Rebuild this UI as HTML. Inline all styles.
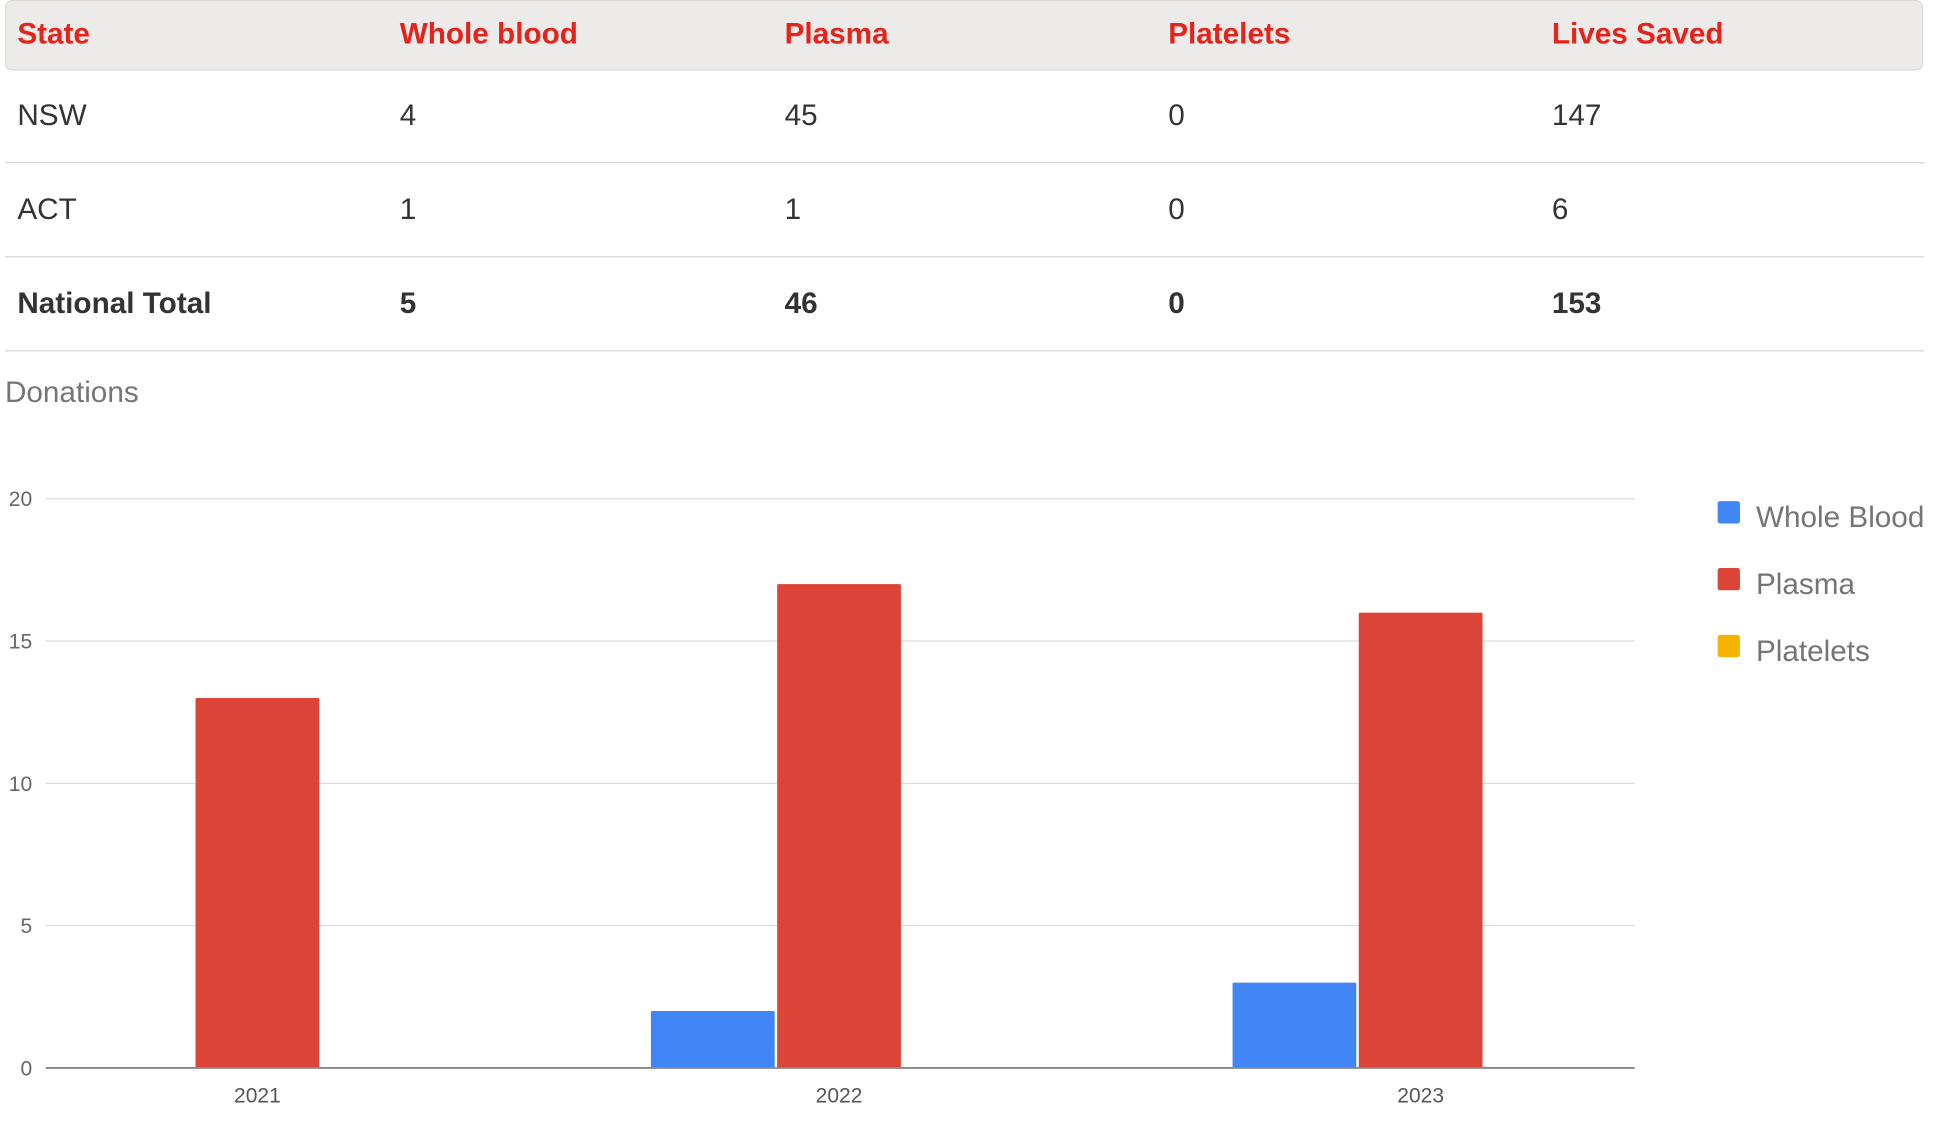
<!DOCTYPE html>
<html><head><meta charset="utf-8"><style>
html,body{margin:0;padding:0;background:#fff;width:1940px;height:1124px;overflow:hidden}
#wrap{position:absolute;left:0;top:0;width:1560px;height:904px;transform:scale(1.2375);transform-origin:0 0;font-family:"Liberation Sans",sans-serif}
.hdr{position:absolute;left:4px;top:0;width:1548px;height:55px;background:#edebe9;border:1px solid #dcdad8;border-radius:6px}
.c{position:absolute;font-size:24px;line-height:28px}
.h{color:#e5231b;font-weight:bold;top:14px}
.r{color:#333}
.b{font-weight:bold;color:#333}
.ln{position:absolute;left:4px;width:1551px;height:1px;background:#d6d6d6}
</style></head><body>
<div id="wrap">
<div class="hdr"></div>
<div class="c h" style="left:14px">State</div>
<div class="c h" style="left:323px">Whole blood</div>
<div class="c h" style="left:634px">Plasma</div>
<div class="c h" style="left:944px">Platelets</div>
<div class="c h" style="left:1254px">Lives Saved</div>

<div class="c r" style="left:14px;top:80px">NSW</div>
<div class="c r" style="left:323px;top:80px">4</div>
<div class="c r" style="left:634px;top:80px">45</div>
<div class="c r" style="left:944px;top:80px">0</div>
<div class="c r" style="left:1254px;top:80px">147</div>
<div class="ln" style="top:131px"></div>

<div class="c r" style="left:14px;top:156px">ACT</div>
<div class="c r" style="left:323px;top:156px">1</div>
<div class="c r" style="left:634px;top:156px">1</div>
<div class="c r" style="left:944px;top:156px">0</div>
<div class="c r" style="left:1254px;top:156px">6</div>
<div class="ln" style="top:207px"></div>

<div class="c b" style="left:14px;top:232px">National Total</div>
<div class="c b" style="left:323px;top:232px">5</div>
<div class="c b" style="left:634px;top:232px">46</div>
<div class="c b" style="left:944px;top:232px">0</div>
<div class="c b" style="left:1254px;top:232px">153</div>
<div class="ln" style="top:283px"></div>

<div class="c" style="left:4px;top:304px;color:#757575">Donations</div>

<svg id="chart" width="1560" height="904" style="position:absolute;left:0;top:0"></svg>
</div>
<script>
const categories=["2021","2022","2023"];
const wholeBlood=[0,2,3];
const plasma=[13,17,16];
const platelets=[0,0,0];
const yTicks=[0,5,10,15,20];
const seriesNames=["Whole Blood","Plasma","Platelets"];
const seriesColors=["#4285f4","#db4437","#f4b400"];

const NS="http://www.w3.org/2000/svg";
const svg=document.getElementById('chart');
const plotL=37,plotR=1321,y0=863,yTop=403,yMax=20;
const y=v=>y0-(v/yMax)*(y0-yTop);
const step=470,xStart=-27;
const cx=i=>xStart+(i+0.5)*step;
const bw=100,gap=2;
function mk(t,a){const e=document.createElementNS(NS,t);for(const k in a)e.setAttribute(k,a[k]);svg.appendChild(e);return e;}
yTicks.forEach(t=>{
  if(t>0){const g=mk('line',{x1:plotL,x2:plotR,y1:y(t),y2:y(t),stroke:'#dcdcdc','stroke-width':1});
  
  }
  const l=mk('text',{x:26,y:y(t)+6,'text-anchor':'end','font-size':17,fill:'#666','font-family':'Liberation Sans, sans-serif'});
  l.textContent=t;
  
  
});
const series=[wholeBlood,plasma,platelets];
categories.forEach((c,i)=>{
  series.forEach((s,j)=>{
    const x=cx(i)+(j-1)*(bw+gap)-bw/2;
    const r=mk('rect',{x:x,y:y(s[i]),width:bw,height:y0-y(s[i]),fill:seriesColors[j],rx:1});
    
    
  });
  const t=mk('text',{x:cx(i),y:891,'text-anchor':'middle','font-size':17,fill:'#555','font-family':'Liberation Sans, sans-serif'});
  t.textContent=c;
  
  
});
const ax=mk('line',{x1:plotL,x2:plotR,y1:y0,y2:y0,stroke:'#888','stroke-width':1.5});


seriesNames.forEach((n,j)=>{
  const r=mk('rect',{x:1388,y:405+j*54,width:18,height:18,rx:2,fill:seriesColors[j]});
  
  
  const t=mk('text',{x:1419,y:426+j*54,'font-size':24,fill:'#757575','font-family':'Liberation Sans, sans-serif'});
  t.textContent=n;
  
  
});
</script>
</body></html>
